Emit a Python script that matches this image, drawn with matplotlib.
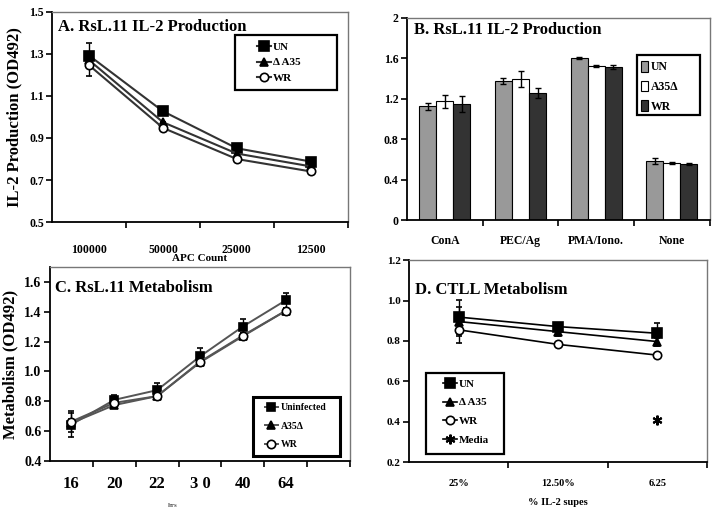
import numpy as np
import matplotlib
matplotlib.use('Agg')
import matplotlib.pyplot as plt
from matplotlib.lines import Line2D
from matplotlib.patches import Patch, Rectangle

plt.rcParams['font.family'] = ['Liberation Serif', 'DejaVu Serif']
plt.rcParams['font.weight'] = 'bold'
plt.rcParams['axes.labelweight'] = 'bold'

# ---- panel A data
apc_counts = ['100000', '50000', '25000', '12500']
a_un = [1.292, 1.027, 0.851, 0.788]
a_a35 = [1.27, 0.975, 0.826, 0.765]
a_wr = [1.246, 0.948, 0.800, 0.741]
a_un_err = [0.06, 0, 0, 0]
a_a35_err = [0.03, 0, 0, 0]
a_wr_err = [0.05, 0, 0, 0]

# ---- panel B data
stimuli = ['ConA', 'PEC/Ag', 'PMA/Iono.', 'None']
b_un = [1.124, 1.378, 1.603, 0.585]
b_a35 = [1.174, 1.40, 1.528, 0.562]
b_wr = [1.147, 1.256, 1.518, 0.553]
b_un_err = [0.03, 0.03, 0.008, 0.03]
b_a35_err = [0.065, 0.08, 0.01, 0.012]
b_wr_err = [0.08, 0.05, 0.02, 0.01]

# ---- panel C data
c_labels = ['16', '20', '22', '3 0', '40', '64']
c_un = [0.645, 0.81, 0.875, 1.10, 1.30, 1.475]
c_a35 = [0.655, 0.775, 0.835, 1.06, 1.235, 1.405]
c_wr = [0.665, 0.79, 0.835, 1.065, 1.24, 1.405]
c_un_err = [0.08, 0.03, 0.045, 0.06, 0.05, 0.05]
c_a35_err = [0.03, 0.02, 0.02, 0.02, 0.02, 0.02]
c_wr_err = [0.07, 0.02, 0.02, 0.02, 0.02, 0.02]

# ---- panel D data
supes = ['25%', '12.50%', '6.25']
d_un = [0.918, 0.871, 0.838]
d_a35 = [0.896, 0.846, 0.797]
d_wr = [0.855, 0.783, 0.730]
d_media = [0.41]
d_un_err = [0.085, 0.02, 0.05]
d_a35_err = [0.07, 0.02, 0.02]
d_wr_err = [0.065, 0.01, 0.01]

W, H = 714, 513


def category_axis(ax, labels, nslots, fontsize, pad):
    x = np.arange(len(labels))
    ax.set_xlim(-0.5, nslots - 0.5)
    ax.set_xticks(x)
    ax.set_xticklabels(labels, fontsize=fontsize, fontweight='bold')
    ax.tick_params(axis='x', which='major', length=0, pad=pad)
    ax.set_xticks(np.arange(nslots) + 0.5, minor=True)
    ax.tick_params(axis='x', which='minor', length=4, width=1.2, direction='out')
    ax.tick_params(axis='y', length=4, width=1.2, direction='out', pad=2)
    for s in ['top', 'right']:
        ax.spines[s].set_color('#777777')
        ax.spines[s].set_linewidth(1.0)
    for s in ['left', 'bottom']:
        ax.spines[s].set_linewidth(1.3)
    return x


def series(ax, x, y, err, marker, face, color, ms, lw):
    ax.errorbar(x, y, yerr=err, color=color, lw=lw, marker=marker, ms=ms,
                mfc=face, mec='black', mew=1.2, ecolor='black', elinewidth=1,
                capsize=2)
    return Line2D([0], [0], color=color, lw=lw, marker=marker, ms=ms,
                  mfc=face, mec='black', mew=1.2)


def boxed_legend(fig, handles, labels, box, anchor, fontsize, lw, **kw):
    # box = (x0, y0, x1, y1) in pixels from top-left, anchor = first entry corner
    x0, y0, x1, y1 = box
    fig.add_artist(Rectangle((x0 / W, 1 - y1 / H), (x1 - x0) / W, (y1 - y0) / H,
                             transform=fig.transFigure, fill=False,
                             ec='black', lw=lw, zorder=5))
    leg = fig.legend(handles, labels, loc='upper left',
                     bbox_to_anchor=(anchor[0] / W, 1 - anchor[1] / H),
                     borderpad=0, borderaxespad=0, fontsize=fontsize,
                     frameon=False, **kw)
    return leg


fig = plt.figure(figsize=(7.14, 5.13), dpi=100)

# ---------------- A
ax = fig.add_axes([0.073, 0.567, 0.414, 0.410])
x = category_axis(ax, apc_counts, 4, 8.5, 16)
h1 = series(ax, x, a_un, a_un_err, 's', 'black', '#333333', 7, 1.5)
h2 = series(ax, x, a_a35, a_a35_err, '^', 'black', '#333333', 6, 1.5)
h3 = series(ax, x, a_wr, a_wr_err, 'o', 'white', '#333333', 6, 1.5)
ax.set_ylim(0.5, 1.5)
ax.set_yticks([0.5, 0.7, 0.9, 1.1, 1.3, 1.5])
ax.set_yticklabels(['0.5', '0.7', '0.9', '1.1', '1.3', '1.5'], fontsize=8.5)
ax.set_ylabel('IL-2 Production (OD492)', fontsize=12)
ax.yaxis.set_label_coords(-0.102, 0.5)
ax.set_xlabel('APC Count', fontsize=8)
ax.xaxis.set_label_coords(0.5, -0.15)
ax.text(0.02, 0.965, 'A. RsL.11 IL-2 Production', transform=ax.transAxes,
        fontsize=12, va='top', ha='left')
boxed_legend(fig, [h1, h2, h3], ['UN', '\u0394 A35', 'WR'],
             (235, 35, 337, 90), (257, 42), 8, 1.6,
             handlelength=1.3, handletextpad=0.1, labelspacing=0.53)

# ---------------- B
ax = fig.add_axes([0.570, 0.571, 0.424, 0.394])
x = category_axis(ax, stimuli, 4, 8.5, 11)
w = 0.225
ekw = dict(elinewidth=1, capthick=1)
ax.bar(x - w, b_un, w, color='#999999', edgecolor='black', lw=0.8,
       yerr=b_un_err, capsize=2, error_kw=ekw)
ax.bar(x, b_a35, w, color='white', edgecolor='black', lw=0.8,
       yerr=b_a35_err, capsize=2, error_kw=ekw)
ax.bar(x + w, b_wr, w, color='#333333', edgecolor='black', lw=0.8,
       yerr=b_wr_err, capsize=2, error_kw=ekw)
ax.set_ylim(0, 2)
ax.set_yticks([0, 0.4, 0.8, 1.2, 1.6, 2])
ax.set_yticklabels(['0', '0.4', '0.8', '1.2', '1.6', '2'], fontsize=8.5)
ax.text(0.023, 0.98, 'B. RsL.11 IL-2 Production', transform=ax.transAxes,
        fontsize=12, va='top', ha='left')
patches = [Patch(fc='#999999', ec='black', lw=0.8),
           Patch(fc='white', ec='black', lw=0.8),
           Patch(fc='#333333', ec='black', lw=0.8)]
boxed_legend(fig, patches, ['UN', 'A35\u0394', 'WR'],
             (637, 55, 700, 115), (641, 61), 8.5, 1.6,
             handlelength=0.6, handleheight=1.0, handletextpad=0.2,
             labelspacing=0.62)

# ---------------- C
ax = fig.add_axes([0.070, 0.101, 0.420, 0.379])
x = category_axis(ax, c_labels, 7, 12, 11)
h1 = series(ax, x, c_un, c_un_err, 's', 'black', '#555555', 6, 1.4)
h2 = series(ax, x, c_a35, c_a35_err, '^', 'black', '#555555', 6, 1.4)
h3 = series(ax, x, c_wr, c_wr_err, 'o', 'white', '#555555', 6, 1.4)
ax.set_ylim(0.4, 1.7)
ax.set_yticks([0.4, 0.6, 0.8, 1.0, 1.2, 1.4, 1.6])
ax.set_yticklabels(['0.4', '0.6', '0.8', '1.0', '1.2', '1.4', '1.6'], fontsize=10)
ax.set_ylabel('Metabolism (OD492)', fontsize=12)
ax.yaxis.set_label_coords(-0.105, 0.5)
ax.set_xlabel('hrs', fontsize=5, color='#555555')
ax.xaxis.set_label_coords(0.41, -0.216)
ax.text(0.017, 0.93, 'C. RsL.11 Metabolism', transform=ax.transAxes,
        fontsize=12, va='top', ha='left')
boxed_legend(fig, [h1, h2, h3], ['Uninfected', 'A35\u0394', 'WR'],
             (253, 397, 340, 456), (265, 403), 7, 2.2,
             handlelength=1.3, handletextpad=0.3, labelspacing=1.0)

# ---------------- D
ax = fig.add_axes([0.573, 0.099, 0.417, 0.394])
x = category_axis(ax, supes, 3, 7.5, 12)
h1 = series(ax, x, d_un, d_un_err, 's', 'black', 'black', 7, 1.2)
h2 = series(ax, x, d_a35, d_a35_err, '^', 'black', 'black', 6, 1.2)
h3 = series(ax, x, d_wr, d_wr_err, 'o', 'white', 'black', 6, 1.2)
ax.plot(x[-1:], d_media, ls='none', marker=(6, 2, 0), ms=7, mec='black',
        mew=1.5, color='black')
h4 = Line2D([0], [0], color='black', lw=1.2, marker=(6, 2, 0), ms=7,
            mec='black', mew=1.5)
ax.set_ylim(0.2, 1.2)
ax.set_yticks([0.2, 0.4, 0.6, 0.8, 1.0, 1.2])
ax.set_yticklabels(['0.2', '0.4', '0.6', '0.8', '1.0', '1.2'], fontsize=8)
ax.set_xlabel('% IL-2 supes', fontsize=7.5)
ax.xaxis.set_label_coords(0.5, -0.175)
ax.text(0.02, 0.89, 'D. CTLL Metabolism', transform=ax.transAxes,
        fontsize=12, va='top', ha='left')
boxed_legend(fig, [h1, h2, h3, h4], ['UN', '\u0394 A35', 'WR', 'Media'],
             (426, 373, 504, 454), (443, 379), 8, 1.6,
             handlelength=1.3, handletextpad=0.1, labelspacing=0.8)

fig.savefig('out.png', dpi=100)
